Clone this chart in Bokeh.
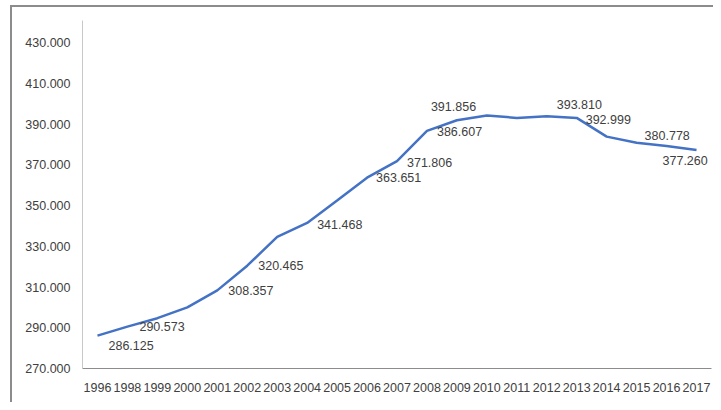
from bokeh.plotting import figure
from bokeh.models import ColumnDataSource, FactorRange, Range1d, FixedTicker
from bokeh.core.properties import value
from bokeh.embed import file_html
from bokeh.resources import INLINE

years = ["1996", "1998", "1999", "2000", "2001", "2002", "2003", "2004", "2005",
         "2006", "2007", "2008", "2009", "2010", "2011", "2012", "2013", "2014",
         "2015", "2016", "2017"]
values = [286.125, 290.573, 294.7, 300.0, 308.357, 320.465, 334.6, 341.468, 352.5,
          363.651, 371.806, 386.607, 391.856, 394.2, 393.0, 393.810, 392.999, 383.8,
          380.778, 379.2, 377.260]

label_years = ["1996", "1998", "2001", "2002", "2004", "2006", "2007", "2008",
               "2009", "2012", "2013", "2015", "2017"]
label_values = [286.125, 290.573, 308.357, 320.465, 341.468, 363.651, 371.806,
                386.607, 391.856, 393.810, 392.999, 380.778, 377.260]
label_texts = ["286.125", "290.573", "308.357", "320.465", "341.468", "363.651",
               "371.806", "386.607", "391.856", "393.810", "392.999", "380.778",
               "377.260"]

y_ticks = [270, 290, 310, 330, 350, 370, 390, 410, 430]
y_tick_labels = ["270.000", "290.000", "310.000", "330.000", "350.000", "370.000",
                 "390.000", "410.000", "430.000"]

# label placement (screen pixel offsets, styling only)
label_dx = [11, 12, 11, 11, 10, 9, 10, 10, -26, 10, 9, 8, -34]
label_dy = [10, 0, 0, 0, 2, 0, 1, 1, -14, -12, 2, -7, 11]

FONT = "Liberation Sans"
TXT = "#404040"
BORDER = "#8c8c8c"

# outer chart-area border drawn as CSS background lines (top and left)
frame_css = {
    "background-color": "white",
    "background-image": f"linear-gradient({BORDER}, {BORDER}), linear-gradient({BORDER}, {BORDER})",
    "background-size": "2px 100%, 100% 2px",
    "background-position": "10px 5px, 10px 5px",
    "background-repeat": "no-repeat",
}

p = figure(x_range=FactorRange(factors=years, range_padding=0),
           y_range=Range1d(270, 440.8),
           width=713, height=402, output_backend="svg", toolbar_location=None,
           min_border_left=82, min_border_right=2, min_border_top=20,
           min_border_bottom=34, styles=frame_css)
p.outline_line_color = None
p.grid.visible = False
p.background_fill_color = None
p.border_fill_color = None

line_src = ColumnDataSource(dict(x=years, y=values))
p.line("x", "y", source=line_src, line_color="#4472C4", line_width=2.5)

lab_src = ColumnDataSource(dict(x=label_years, y=label_values, t=label_texts,
                                dx=label_dx, dy=label_dy))
p.text("x", "y", text="t", source=lab_src, x_offset="dx", y_offset="dy",
       text_align="left", text_baseline="middle",
       text_font=value(FONT), text_font_size="12.5px", text_color=TXT)

p.yaxis.ticker = FixedTicker(ticks=y_ticks)
p.yaxis.major_label_overrides = {t: l for t, l in zip(y_ticks, y_tick_labels)}
p.yaxis.axis_line_color = "#c8c8c8"
p.xaxis.axis_line_color = "#8c8c8c"
for ax in (p.xaxis, p.yaxis):
    ax.major_tick_line_color = None
    ax.minor_tick_line_color = None
    ax.major_tick_out = 0
    ax.major_tick_in = 0
    ax.minor_tick_out = 0
    ax.major_label_text_font = FONT
    ax.major_label_text_font_size = "12.5px"
    ax.major_label_text_color = TXT
p.yaxis.major_label_standoff = 12
p.xaxis.major_label_standoff = 14

open("out.html", "w").write(file_html(p, INLINE))
